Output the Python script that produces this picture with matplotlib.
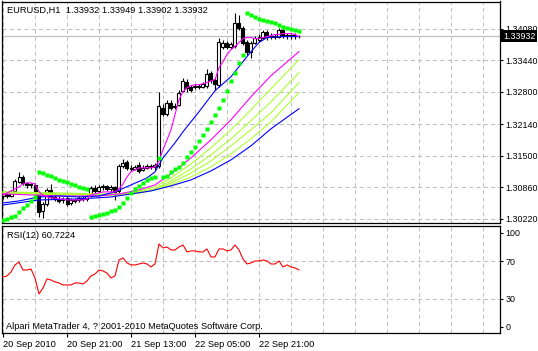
import matplotlib
matplotlib.use('Agg')
import matplotlib.pyplot as plt
import numpy as np

plt.rcParams['font.family'] = ['Liberation Sans', 'DejaVu Sans']
plt.rcParams['font.size'] = 6.7

# EURUSD H1 candles, 20 Sep 2010 05:00 onwards
open_ = [1.30687, 1.30728, 1.30687, 1.30789, 1.30972, 1.31074, 1.30952, 1.30911, 1.30911, 1.30748,
         1.30382, 1.30525, 1.30810, 1.30667, 1.30626, 1.30606, 1.30647, 1.30545, 1.30606, 1.30606,
         1.30647, 1.30626, 1.30687, 1.30850, 1.30789, 1.30871, 1.30891, 1.30830, 1.30871, 1.30789,
         1.31298, 1.31379, 1.31257, 1.31237, 1.31318, 1.31217, 1.31257, 1.31298, 1.31278, 1.31298,
         1.32478, 1.32356, 1.32580, 1.32519, 1.32539, 1.32824, 1.33007, 1.32906, 1.32906, 1.32926,
         1.32906, 1.32926, 1.33190, 1.33048, 1.32946, 1.33720, 1.33801, 1.33720, 1.33740, 1.34208,
         1.34106, 1.33821, 1.33618, 1.33801, 1.33862, 1.33903, 1.34025, 1.33943, 1.33923, 1.33923,
         1.34066, 1.33943, 1.33964, 1.33943, 1.33932]
high = [1.30769, 1.30769, 1.30810, 1.31033, 1.31176, 1.31115, 1.30972, 1.30952, 1.30952, 1.30789,
        1.30565, 1.30850, 1.30932, 1.30728, 1.30687, 1.30667, 1.30687, 1.30647, 1.30647, 1.30687,
        1.30687, 1.30728, 1.30891, 1.30911, 1.30911, 1.30932, 1.30911, 1.30911, 1.30891, 1.31339,
        1.31440, 1.31420, 1.31318, 1.31318, 1.31379, 1.31318, 1.31339, 1.31339, 1.31359, 1.32804,
        1.32560, 1.32641, 1.32641, 1.32580, 1.32845, 1.33089, 1.33068, 1.32946, 1.32967, 1.32967,
        1.33007, 1.33272, 1.33231, 1.33089, 1.33903, 1.33862, 1.33842, 1.33821, 1.34411, 1.34371,
        1.34147, 1.33862, 1.33842, 1.33943, 1.33984, 1.34066, 1.34066, 1.34004, 1.33984, 1.34106,
        1.34086, 1.34004, 1.33984, 1.34004, 1.33949]
low = [1.30626, 1.30647, 1.30667, 1.30769, 1.30952, 1.30911, 1.30850, 1.30850, 1.30708, 1.30260,
       1.30240, 1.30484, 1.30626, 1.30586, 1.30545, 1.30545, 1.30484, 1.30504, 1.30545, 1.30565,
       1.30586, 1.30586, 1.30667, 1.30748, 1.30769, 1.30810, 1.30789, 1.30769, 1.30606, 1.30748,
       1.31257, 1.31217, 1.31196, 1.31217, 1.31155, 1.31196, 1.31237, 1.31237, 1.31217, 1.31257,
       1.32315, 1.32315, 1.32438, 1.32458, 1.32519, 1.32804, 1.32804, 1.32804, 1.32865, 1.32865,
       1.32885, 1.32885, 1.32987, 1.32845, 1.32906, 1.33679, 1.33679, 1.33679, 1.33699, 1.34066,
       1.33760, 1.33557, 1.33496, 1.33781, 1.33821, 1.33882, 1.33862, 1.33882, 1.33882, 1.33903,
       1.33903, 1.33882, 1.33882, 1.33882, 1.33902]
close = [1.30728, 1.30687, 1.30769, 1.30993, 1.31074, 1.30952, 1.30911, 1.30932, 1.30748, 1.30362,
         1.30525, 1.30810, 1.30667, 1.30626, 1.30586, 1.30626, 1.30525, 1.30606, 1.30586, 1.30647,
         1.30626, 1.30687, 1.30850, 1.30789, 1.30871, 1.30891, 1.30830, 1.30871, 1.30769, 1.31298,
         1.31359, 1.31257, 1.31237, 1.31278, 1.31196, 1.31257, 1.31298, 1.31278, 1.31318, 1.32519,
         1.32356, 1.32580, 1.32478, 1.32499, 1.32784, 1.33028, 1.32885, 1.32845, 1.32926, 1.32906,
         1.32967, 1.33170, 1.33048, 1.32967, 1.33821, 1.33801, 1.33720, 1.33781, 1.34208, 1.34106,
         1.33801, 1.33618, 1.33801, 1.33903, 1.33923, 1.34025, 1.33923, 1.33923, 1.33943, 1.34066,
         1.33943, 1.33964, 1.33943, 1.33964, 1.33932]

# Parabolic SAR, one dot per bar
sar = [1.30199, 1.30220, 1.30260, 1.30281, 1.30362, 1.30443, 1.30504, 1.30586, 1.30667, 1.31176,
       1.31155, 1.31115, 1.31094, 1.31054, 1.31013, 1.30993, 1.30972, 1.30932, 1.30911, 1.30871,
       1.30850, 1.30830, 1.30260, 1.30281, 1.30301, 1.30321, 1.30342, 1.30382, 1.30403, 1.30464,
       1.30545, 1.30647, 1.30748, 1.30830, 1.30891, 1.30952, 1.31013, 1.31054, 1.31074, 1.31461,
       1.31074, 1.31094, 1.31176, 1.31237, 1.31278, 1.31359, 1.31481, 1.31583, 1.31684, 1.31807,
       1.31929, 1.32051, 1.32193, 1.32336, 1.32478, 1.32641, 1.32824, 1.33028, 1.33190, 1.33394,
       1.33557, 1.34411, 1.34371, 1.34330, 1.34289, 1.34269, 1.34249, 1.34228, 1.34208, 1.34167,
       1.34127, 1.34106, 1.34086, 1.34066, 1.34045]

# fast moving average (magenta), one value per bar
ma_fast = [1.30708, 1.30748, 1.30789, 1.30830, 1.30871, 1.30932, 1.30952, 1.30952, 1.30932, 1.30769,
           1.30708, 1.30667, 1.30647, 1.30647, 1.30626, 1.30626, 1.30606, 1.30606, 1.30606, 1.30606,
           1.30606, 1.30626, 1.30708, 1.30728, 1.30748, 1.30769, 1.30769, 1.30769, 1.30769, 1.30830,
           1.30932, 1.31074, 1.31176, 1.31217, 1.31257, 1.31257, 1.31257, 1.31257, 1.31278, 1.31400,
           1.31624, 1.31827, 1.32031, 1.32336, 1.32641, 1.32804, 1.32885, 1.32926, 1.32946, 1.32946,
           1.32967, 1.32987, 1.33028, 1.33048, 1.33292, 1.33414, 1.33557, 1.33659, 1.33720, 1.33801,
           1.33882, 1.33903, 1.33903, 1.33882, 1.33882, 1.33903, 1.33923, 1.33943, 1.33964, 1.33964,
           1.33984, 1.33984, 1.33984, 1.33964, 1.33923]

# medium blue moving average, read at these bars
ma_mid_bars = [0, 4, 9, 14, 19, 24, 28, 32, 36, 38, 40, 43, 45, 49, 53, 57, 60, 62, 64, 66, 70, 74]
ma_mid = [1.30545, 1.30586, 1.30667, 1.30687, 1.30667, 1.30687, 1.30769, 1.30911, 1.31054, 1.31176,
          1.31461, 1.31766, 1.31990, 1.32397, 1.32824, 1.33109, 1.33414, 1.33618, 1.33801, 1.33903,
          1.33923, 1.33923]

# slow blue moving average
ma_slow_bars = [0, 9, 19, 27, 32, 37, 42, 47, 52, 57, 62, 67, 74]
ma_slow = [1.30504, 1.30606, 1.30626, 1.30667, 1.30728, 1.30789, 1.30891, 1.31013, 1.31196, 1.31420,
           1.31705, 1.32051, 1.32458]

# ribbon of longer averages (one magenta, four yellow-green)
ribbon_bars = [0, 14, 24, 29, 34, 38, 42, 47, 52, 57, 62, 67, 74]
ribbon_magenta = [1.30728, 1.30687, 1.30687, 1.30728, 1.30810, 1.30911, 1.31135, 1.31461, 1.31827,
                  1.32234, 1.32702, 1.33129, 1.33618]
ribbon_green_1 = [1.30748, 1.30708, 1.30708, 1.30728, 1.30789, 1.30871, 1.31054, 1.31339, 1.31664,
                  1.32031, 1.32438, 1.32865, 1.33455]
ribbon_green_2 = [1.30748, 1.30728, 1.30708, 1.30708, 1.30769, 1.30830, 1.30993, 1.31237, 1.31522,
                  1.31847, 1.32214, 1.32600, 1.33190]
ribbon_green_3 = [1.30769, 1.30728, 1.30708, 1.30708, 1.30748, 1.30810, 1.30952, 1.31155, 1.31400,
                  1.31705, 1.32031, 1.32376, 1.32987]
ribbon_green_4 = [1.30769, 1.30748, 1.30728, 1.30728, 1.30748, 1.30810, 1.30911, 1.31074, 1.31278,
                  1.31542, 1.31847, 1.32193, 1.32784]

# RSI(12), one value per bar
rsi = [53.2, 54.3, 58.5, 66.0, 69.1, 60.6, 60.6, 61.7, 52.1, 35.1,
       41.5, 51.1, 50.0, 47.9, 46.8, 44.7, 44.7, 44.7, 46.8, 46.8,
       45.7, 48.9, 54.3, 56.4, 60.6, 59.6, 57.4, 52.1, 54.3, 71.3,
       73.4, 68.1, 66.0, 66.0, 67.0, 68.1, 67.0, 63.8, 67.0, 88.3,
       84.0, 85.1, 81.9, 81.9, 85.1, 87.2, 79.8, 80.9, 80.9, 79.8,
       79.8, 83.0, 74.5, 74.5, 83.0, 83.0, 80.9, 81.9, 87.2, 81.9,
       72.3, 67.0, 68.1, 70.2, 70.2, 71.3, 70.2, 67.0, 67.0, 70.2,
       63.8, 66.0, 63.8, 62.8, 60.7224]

price_ticks = [1.34080, 1.33440, 1.32800, 1.32140, 1.31500, 1.30860, 1.30220]
rsi_ticks = [100, 70, 30, 0]
time_ticks = [0, 16, 32, 48, 64]
time_labels = ['20 Sep 2010', '20 Sep 21:00', '21 Sep 13:00', '22 Sep 05:00', '22 Sep 21:00']

W, H = 538, 351
fig = plt.figure(figsize=(W / 100, H / 100), dpi=100)
fig.patch.set_facecolor('white')
ax = fig.add_axes([2 / W, (H - 223) / H, 498 / W, 221.5 / H])
ax2 = fig.add_axes([2 / W, (H - 333) / H, 498 / W, 107 / H])

grid_kw = dict(color='#c0c0c0', lw=0.75, ls=(0, (4, 3)), zorder=1)
xmin, xmax = -0.25, 124.25

for a in (ax, ax2):
    a.set_xlim(xmin, xmax)
    for b in range(0, 125, 8):
        a.axvline(b, **grid_kw)
    for s in a.spines.values():
        s.set_color('black')
        s.set_linewidth(0.9)
    a.yaxis.tick_right()
    a.tick_params(axis='y', direction='out', length=2.5, width=0.8, pad=1.2,
                  colors='black', labelsize=6.4)

# ---- price panel
ax.set_ylim(1.30138, 1.34635)
for p in price_ticks:
    ax.axhline(p, **grid_kw)
ax.axhline(close[-1], color='#c0c0c0', lw=0.9, zorder=1.5)

x = np.arange(len(close))
o = np.array(open_)
c = np.array(close)
up = c >= o
ax.vlines(x, low, high, color='black', lw=0.8, zorder=2)
ax.bar(x, np.abs(c - o), bottom=np.minimum(o, c), width=0.75,
       color=np.where(up, 'white', 'black'), edgecolor='black', lw=0.8, zorder=2.5)

ax.plot(ribbon_bars, ribbon_green_4, color='#adff2f', lw=0.8, zorder=3)
ax.plot(ribbon_bars, ribbon_green_3, color='#adff2f', lw=0.8, zorder=3)
ax.plot(ribbon_bars, ribbon_green_2, color='#adff2f', lw=0.8, zorder=3)
ax.plot(ribbon_bars, ribbon_green_1, color='#adff2f', lw=0.8, zorder=3)
ax.plot(ribbon_bars, ribbon_magenta, color='#ff00ff', lw=0.8, zorder=3)
ax.plot(ma_slow_bars, ma_slow, color='#0000ff', lw=0.8, zorder=3)
ax.plot(ma_mid_bars, ma_mid, color='#0000ff', lw=0.8, zorder=3)
ax.plot(x, ma_fast, color='#ff00ff', lw=0.8, zorder=3.2)
ax.plot(x, sar, 's', color='#00ff00', ms=2.4, mec='none', zorder=4)

ax.set_xticks([])
ax.set_yticks(price_ticks)
ax.set_yticklabels(['%.5f' % p for p in price_ticks])
ax.text(1.006, close[-1], '%.5f' % close[-1], transform=ax.get_yaxis_transform(),
        color='white', va='center', ha='left', zorder=6, fontsize=6.4,
        bbox=dict(facecolor='black', edgecolor='none', pad=1.2))
ax.text(0.01, 0.959, 'EURUSD,H1  %.5f %.5f %.5f %.5f' % (open_[-1], high[-1], low[-1], close[-1]),
        transform=ax.transAxes, va='center', ha='left')

# ---- RSI panel
ax2.set_ylim(-6.4, 107.4)
for r in (70, 30):
    ax2.axhline(r, **grid_kw)
ax2.plot(x, rsi, color='#ff0000', lw=0.8, zorder=3)
ax2.set_yticks(rsi_ticks)
ax2.set_yticklabels([str(v) for v in rsi_ticks])
ax2.set_xticks(time_ticks)
ax2.set_xticklabels(time_labels, ha='left')
ax2.tick_params(axis='x', direction='out', length=3, width=0.8, pad=2)
ax2.text(0.01, 0.907, 'RSI(12) %.4f' % rsi[-1], transform=ax2.transAxes, va='center', ha='left')
ax2.text(0.008, 0.065, 'Alpari MetaTrader 4, ? 2001-2010 MetaQuotes Software Corp.',
         transform=ax2.transAxes, va='center', ha='left')

fig.savefig('out.png', dpi=100)
